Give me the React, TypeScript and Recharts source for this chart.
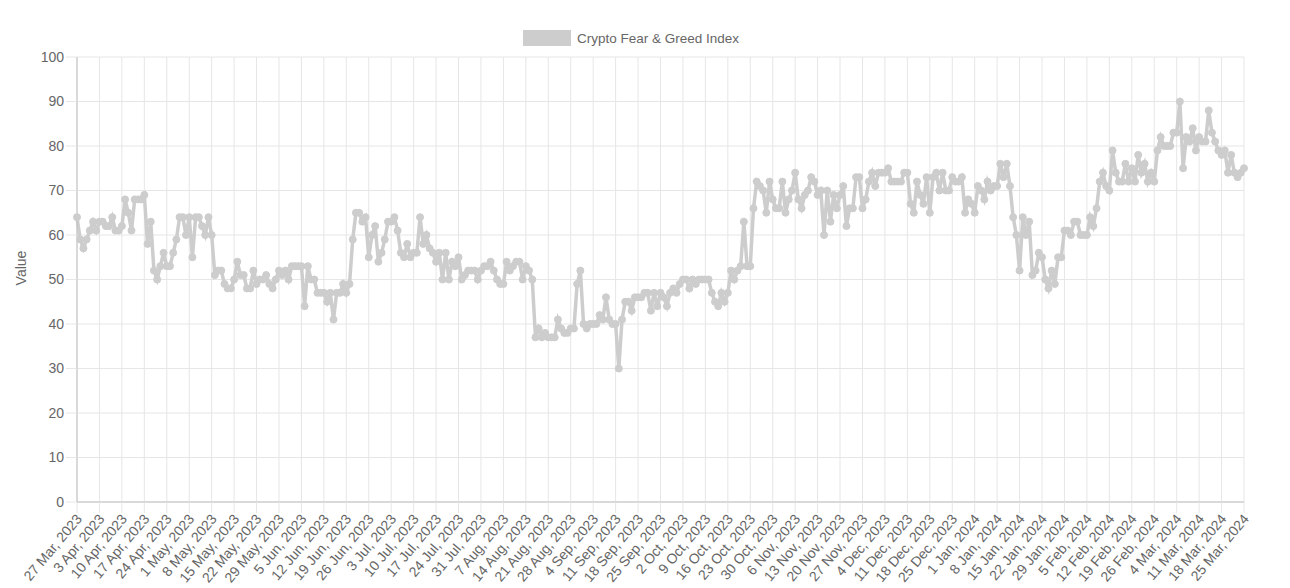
import { LineChart, Line, XAxis, YAxis, CartesianGrid, Legend } from 'recharts';

const FONT = '"Liberation Sans", Arial, Helvetica, sans-serif';
const LINE_COLOR = '#cdcdcd';
const GRID_COLOR = '#e6e6e6';
const AXIS_COLOR = '#bfbfbf';
const TEXT_COLOR = '#666666';

const SERIES_NAME = 'Crypto Fear & Greed Index';
const FIRST_DAY = '2023-03-27';
const MONTH_NAMES = ['Jan', 'Feb', 'Mar', 'Apr', 'May', 'Jun', 'Jul', 'Aug', 'Sep', 'Oct', 'Nov', 'Dec'];

// daily index values, 27 Mar 2023 .. 4 Jul 2023
const valuesFrom27Mar2023 = [
  64, 59, 57, 59, 61, 63, 61, 63, 63, 62,
  62, 64, 61, 61, 62, 68, 65, 61, 68, 68,
  68, 69, 58, 63, 52, 50, 53, 56, 53, 53,
  56, 59, 64, 64, 60, 64, 55, 64, 64, 62,
  60, 64, 60, 51, 52, 52, 49, 48, 48, 50,
  54, 51, 51, 48, 48, 52, 49, 50, 50, 51,
  49, 48, 50, 52, 51, 52, 50, 53, 53, 53,
  53, 44, 53, 50, 50, 47, 47, 47, 45, 47,
  41, 47, 47, 49, 47, 49, 59, 65, 65, 63,
  64, 55, 60, 62, 54, 56, 59, 63, 63, 64,
];

// 5 Jul 2023 .. 12 Oct 2023
const valuesFrom5Jul2023 = [
  61, 56, 55, 58, 55, 56, 56, 64, 58, 60,
  57, 56, 54, 56, 50, 56, 50, 54, 53, 55,
  50, 51, 52, 52, 52, 50, 52, 53, 53, 54,
  52, 50, 49, 49, 54, 52, 53, 54, 54, 50,
  53, 52, 50, 37, 39, 37, 38, 37, 37, 37,
  41, 39, 38, 38, 39, 39, 49, 52, 40, 39,
  40, 40, 40, 42, 41, 46, 41, 40, 40, 30,
  41, 45, 45, 43, 46, 46, 46, 47, 47, 43,
  47, 44, 47, 46, 44, 47, 48, 47, 49, 50,
  50, 48, 50, 49, 50, 50, 50, 50, 47, 45,
];

// 13 Oct 2023 .. 20 Jan 2024
const valuesFrom13Oct2023 = [
  44, 47, 45, 47, 52, 50, 52, 53, 63, 53,
  53, 66, 72, 71, 70, 65, 72, 68, 66, 66,
  72, 65, 68, 70, 74, 68, 66, 69, 70, 73,
  72, 69, 70, 60, 70, 63, 69, 66, 69, 71,
  62, 66, 66, 73, 73, 66, 68, 72, 74, 71,
  74, 74, 74, 75, 72, 72, 72, 72, 74, 74,
  67, 65, 72, 69, 67, 73, 65, 73, 74, 70,
  74, 70, 70, 73, 72, 72, 73, 65, 68, 67,
  65, 71, 70, 68, 72, 70, 71, 71, 76, 73,
  76, 71, 64, 60, 52, 64, 60, 63, 51, 52,
];

// 21 Jan 2024 .. 25 Mar 2024
const valuesFrom21Jan2024 = [
  56, 55, 50, 48, 52, 49, 55, 55, 61, 61,
  60, 63, 63, 60, 60, 60, 64, 62, 66, 72,
  74, 71, 70, 79, 74, 72, 72, 76, 72, 75,
  72, 78, 74, 76, 72, 74, 72, 79, 82, 80,
  80, 80, 83, 83, 90, 75, 82, 81, 84, 79,
  82, 81, 81, 88, 83, 81, 79, 78, 79, 74,
  78, 74, 73, 74, 75,
];

const WEEK_TICKS = [
  '27 Mar, 2023', '3 Apr, 2023', '10 Apr, 2023', '17 Apr, 2023', '24 Apr, 2023',
  '1 May, 2023', '8 May, 2023', '15 May, 2023', '22 May, 2023', '29 May, 2023',
  '5 Jun, 2023', '12 Jun, 2023', '19 Jun, 2023', '26 Jun, 2023', '3 Jul, 2023',
  '10 Jul, 2023', '17 Jul, 2023', '24 Jul, 2023', '31 Jul, 2023', '7 Aug, 2023',
  '14 Aug, 2023', '21 Aug, 2023', '28 Aug, 2023', '4 Sep, 2023', '11 Sep, 2023',
  '18 Sep, 2023', '25 Sep, 2023', '2 Oct, 2023', '9 Oct, 2023', '16 Oct, 2023',
  '23 Oct, 2023', '30 Oct, 2023', '6 Nov, 2023', '13 Nov, 2023', '20 Nov, 2023',
  '27 Nov, 2023', '4 Dec, 2023', '11 Dec, 2023', '18 Dec, 2023', '25 Dec, 2023',
  '1 Jan, 2024', '8 Jan, 2024', '15 Jan, 2024', '22 Jan, 2024', '29 Jan, 2024',
  '5 Feb, 2024', '12 Feb, 2024', '19 Feb, 2024', '26 Feb, 2024', '4 Mar, 2024',
  '11 Mar, 2024', '18 Mar, 2024', '25 Mar, 2024',
];

const Y_TICKS = [0, 10, 20, 30, 40, 50, 60, 70, 80, 90, 100];

const fearGreed = [
  ...valuesFrom27Mar2023,
  ...valuesFrom5Jul2023,
  ...valuesFrom13Oct2023,
  ...valuesFrom21Jan2024,
];

const startMs = Date.parse(FIRST_DAY + 'T00:00:00Z');
function dayLabel(i: number) {
  const d = new Date(startMs + i * 86400000);
  return `${d.getUTCDate()} ${MONTH_NAMES[d.getUTCMonth()]}, ${d.getUTCFullYear()}`;
}

const data = fearGreed.map((value, i) => ({ date: dayLabel(i), value }));

function XTick({ x, y, payload }: any) {
  return (
    <text
      x={x + 2}
      y={y}
      dy={5}
      textAnchor="end"
      transform={`rotate(-50, ${x + 2}, ${y})`}
      fill={TEXT_COLOR}
      fontSize={14}
      fontFamily={FONT}
    >
      {payload.value}
    </text>
  );
}

function YTitle() {
  return (
    <text
      x={26}
      y={268}
      transform="rotate(-90, 26, 268)"
      textAnchor="middle"
      fill={TEXT_COLOR}
      fontSize={14}
      fontFamily={FONT}
    >
      Value
    </text>
  );
}

function LegendContent() {
  return (
    <div
      style={{
        display: 'flex',
        alignItems: 'center',
        fontFamily: FONT,
        fontSize: 13.5,
        color: TEXT_COLOR,
        whiteSpace: 'nowrap',
      }}
    >
      <span
        style={{
          display: 'inline-block',
          width: 48,
          height: 16,
          boxSizing: 'border-box',
          background: LINE_COLOR,
          border: `1px solid ${LINE_COLOR}`,
          marginRight: 6,
        }}
      />
      <span>{SERIES_NAME}</span>
    </div>
  );
}

export default function App() {
  return (
    <div style={{ position: 'absolute', left: 0, top: 0, background: '#fff' }}>
      <LineChart width={1290} height={588} data={data} margin={{ top: 57, right: 46, bottom: 6, left: 0 }}>
        <CartesianGrid stroke={GRID_COLOR} />
        <Legend
          layout="horizontal"
          verticalAlign="middle"
          align="center"
          wrapperStyle={{ top: 30, left: 523, width: 'auto' }}
          content={LegendContent}
        />
        <XAxis
          dataKey="date"
          ticks={WEEK_TICKS}
          interval={0}
          tick={XTick}
          tickSize={11}
          tickMargin={3}
          height={80}
          axisLine={{ stroke: AXIS_COLOR }}
          tickLine={{ stroke: GRID_COLOR }}
        />
        <YAxis
          domain={[0, 100]}
          ticks={Y_TICKS}
          interval={0}
          width={77}
          tickSize={11}
          tickMargin={2}
          axisLine={{ stroke: AXIS_COLOR }}
          tickLine={{ stroke: GRID_COLOR }}
          tick={{ fill: TEXT_COLOR, fontSize: 14, fontFamily: FONT }}
          label={YTitle}
        />
        <Line
          type="linear"
          dataKey="value"
          name={SERIES_NAME}
          stroke={LINE_COLOR}
          strokeWidth={3.5}
          dot={{ r: 3.5, fill: LINE_COLOR, stroke: LINE_COLOR, strokeWidth: 1 }}
          activeDot={false}
          isAnimationActive={false}
        />
      </LineChart>
    </div>
  );
}
